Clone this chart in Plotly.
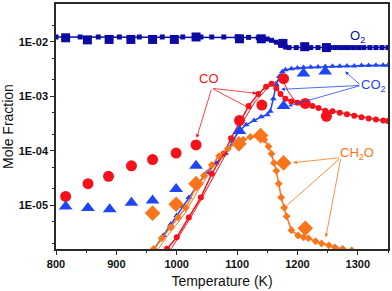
import numpy as np
import plotly.graph_objects as go

# ---------------- data ----------------
# Experimental points
o2_exp_T = [816, 852, 888, 924, 960, 996, 1032, 1104, 1140, 1176, 1212, 1248]
o2_exp_y = [1.18e-2, 1.08e-2, 1.1e-2, 1.1e-2, 1.1e-2, 1.1e-2, 1.22e-2, 1.13e-2, 1.13e-2, 9.3e-3, 8.1e-3, 7.8e-3]

co_exp_T = [816, 853, 887, 925, 960, 999, 1032, 1104, 1141, 1177, 1213, 1248]
co_exp_y = [1.46e-5, 2.5e-5, 3.4e-5, 5.3e-5, 6.9e-5, 9.1e-5, 1.28e-4, 3.6e-4, 6.9e-4, 2.1e-3, 7.4e-4, 4.3e-4]

co2_exp_T = [816, 853, 889, 925, 960, 999, 1032, 1104, 1177, 1210, 1246]
co2_exp_y = [9.5e-6, 8.9e-6, 8.5e-6, 1.12e-5, 1.23e-5, 2.0e-5, 5.3e-5, 2.3e-4, 6.6e-4, 2.6e-3, 2.85e-3]

ch2o_exp_T = [960, 999, 1032, 1103, 1139, 1177, 1213]
ch2o_exp_y = [7.2e-6, 1.05e-5, 2.5e-5, 1.34e-4, 1.9e-4, 6.0e-5, 3.8e-6]

# Model curves
o2_mod_T = [800, 815, 840, 870, 905, 938, 976, 1010, 1040, 1058, 1078, 1100, 1119, 1135,
            1150, 1157, 1165, 1172, 1180, 1186, 1198, 1210, 1222, 1234, 1246, 1254, 1262,
            1270, 1278, 1286, 1294, 1302, 1310, 1320, 1330, 1340, 1350]
o2_mod_y = [1.22e-2, 1.22e-2, 1.22e-2, 1.22e-2, 1.22e-2, 1.22e-2, 1.22e-2, 1.22e-2, 1.22e-2,
            1.22e-2, 1.22e-2, 1.22e-2, 1.2e-2, 1.18e-2, 1.12e-2, 1.06e-2, 9.8e-3, 8.8e-3,
            8.0e-3, 7.8e-3, 7.8e-3, 7.8e-3, 7.8e-3, 7.8e-3, 7.8e-3, 7.8e-3, 7.8e-3, 7.8e-3,
            7.8e-3, 7.8e-3, 7.8e-3, 7.8e-3, 7.8e-3, 7.8e-3, 7.8e-3, 7.8e-3, 7.8e-3]

co_mod_T = [984, 1000, 1020, 1040, 1058, 1078, 1090, 1103, 1119, 1135, 1148, 1157, 1165,
            1172, 1180, 1190, 1200, 1213, 1225, 1235, 1246, 1258, 1270, 1282, 1294, 1306,
            1318, 1330, 1342, 1350]
co_mod_y = [1.6e-6, 2.6e-6, 6e-6, 1.4e-5, 3.8e-5, 8.9e-5, 1.7e-4, 3.2e-4, 6.6e-4, 1.1e-3,
            1.5e-3, 1.7e-3, 1.4e-3, 1.1e-3, 9e-4, 8e-4, 7.6e-4, 7.2e-4, 6.6e-4, 6.1e-4,
            5.4e-4, 5.3e-4, 5.0e-4, 4.7e-4, 4.4e-4, 4.1e-4, 3.9e-4, 3.75e-4, 3.6e-4, 3.5e-4]

co_mod2_T = [991, 1010, 1030, 1050, 1070, 1090, 1110, 1130, 1150, 1165, 1175, 1185, 1195, 1210]
co_mod2_y = [1.6e-6, 3.5e-6, 8e-6, 2e-5, 5e-5, 1.3e-4, 3.5e-4, 8e-4, 1.4e-3, 1.9e-3,
             2.05e-3, 1.2e-3, 8.5e-4, 7.3e-4]

co2_mod_T = [963, 978, 990, 1000, 1010, 1020, 1035, 1050, 1065, 1081, 1093, 1103, 1115,
             1128, 1140, 1150, 1155, 1160, 1165, 1170, 1175, 1180, 1190, 1200, 1210, 1222,
             1234, 1246, 1258, 1270, 1282, 1294, 1306, 1318, 1330, 1342, 1350]
co2_mod_y = [1.6e-6, 2.8e-6, 4.5e-6, 6.5e-6, 9.5e-6, 1.4e-5, 2.4e-5, 4e-5, 6e-5, 9e-5,
             1.5e-4, 2.3e-4, 3e-4, 3.6e-4, 4.2e-4, 4.6e-4, 5.3e-4, 9e-4, 1.65e-3, 2.3e-3,
             2.8e-3, 3.05e-3, 3.2e-3, 3.3e-3, 3.35e-3, 3.4e-3, 3.45e-3, 3.5e-3, 3.55e-3,
             3.55e-3, 3.6e-3, 3.6e-3, 3.65e-3, 3.65e-3, 3.7e-3, 3.7e-3, 3.7e-3]

ch2o_mod_T = [962, 975, 990, 1002, 1015, 1033, 1045, 1058, 1070, 1085, 1097, 1110, 1122,
              1135, 1145, 1152, 1157, 1161, 1165, 1169, 1173, 1178, 1182, 1190, 1201, 1210,
              1218, 1230, 1240, 1252, 1262, 1275, 1290]
ch2o_mod_y = [1.6e-6, 2.5e-6, 4e-6, 6e-6, 9e-6, 2.3e-5, 3.5e-5, 5.5e-5, 8e-5, 1.1e-4,
              1.35e-4, 1.6e-4, 1.8e-4, 1.8e-4, 1.6e-4, 1.2e-4, 8.8e-5, 6e-5, 4.3e-5, 2.5e-5,
              1.4e-5, 9e-6, 6.3e-6, 3.5e-6, 2.8e-6, 2.6e-6, 2.5e-6, 2.2e-6, 2.0e-6, 1.85e-6,
              1.7e-6, 1.6e-6, 1.5e-6]

ch2o_mod2_T = [970, 985, 1000, 1015, 1030, 1045, 1060, 1075, 1090, 1105, 1120]
ch2o_mod2_y = [1.6e-6, 2.8e-6, 4.5e-6, 7.5e-6, 1.5e-5, 2.8e-5, 5e-5, 8e-5, 1.2e-4, 1.5e-4, 1.75e-4]

# Axis ticks
y_tickvals = [1e-5, 1e-4, 1e-3, 1e-2]
y_ticktext = ["1E-05", "1E-04", "1E-03", "1E-02"]
y_minor = [2e-6, 5e-6, 2e-5, 5e-5, 2e-4, 5e-4, 2e-3, 5e-3, 2e-2]
x_tickvals = [800, 900, 1000, 1100, 1200, 1300]
x_minor = [850, 950, 1050, 1150, 1250, 1350]

# Annotation arrows: (tail T, tail y, head T, head y)
co_arrows = [(1058, 1.4e-3, 1033, 1.73e-4), (1058, 1.4e-3, 1132, 1.13e-3), (1058, 1.4e-3, 1124, 5.8e-4)]
co2_arrows = [(1305, 1.58e-3, 1173, 1.34e-3), (1305, 1.58e-3, 1279, 2.85e-3), (1305, 1.58e-3, 1185, 6.6e-4)]
ch2o_arrows = [(1272, 7.5e-5, 1193, 6.05e-5), (1272, 7.5e-5, 1177, 8.8e-6), (1272, 7.5e-5, 1247, 2.6e-6)]

# ---------------- styles ----------------
RED = "#f5121c"
BLUE = "#1f45f5"
NAVY = "#0b0ba3"
ORANGE = "#fa7419"
FONT = "Liberation Sans, Arial, sans-serif"

fig = go.Figure()

def model(T, y, color, symbol, msize=5, width=1.3, markers=True):
    fig.add_trace(go.Scatter(
        x=T, y=y, mode="lines+markers" if markers else "lines",
        line=dict(color=color, width=width),
        marker=dict(symbol=symbol, size=msize, color=color, line=dict(width=0)),
        showlegend=False, hoverinfo="skip"))

def exp(T, y, color, symbol, size):
    fig.add_trace(go.Scatter(
        x=T, y=y, mode="markers",
        marker=dict(symbol=symbol, size=size, color=color, line=dict(width=0)),
        showlegend=False))

model(co_mod2_T, co_mod2_y, RED, "circle", markers=False, width=1)
model(ch2o_mod2_T, ch2o_mod2_y, ORANGE, "diamond", markers=False, width=1)
model(o2_mod_T, o2_mod_y, NAVY, "square", msize=5, width=1.5)
model(co2_mod_T, co2_mod_y, BLUE, "triangle-up", msize=6, width=1.5)
model(co_mod_T, co_mod_y, RED, "circle", msize=6, width=1.5)
model(ch2o_mod_T, ch2o_mod_y, ORANGE, "diamond", msize=6, width=1.5)

exp(o2_exp_T, o2_exp_y, NAVY, "square", 9)
exp(co_exp_T, co_exp_y, RED, "circle", 11)
exp(co2_exp_T, co2_exp_y, BLUE, "triangle-up", 12)
exp(ch2o_exp_T, ch2o_exp_y, ORANGE, "diamond", 12)

annotations = []
for arrows, color in [(co_arrows, RED), (co2_arrows, BLUE), (ch2o_arrows, ORANGE)]:
    for tT, ty, hT, hy in arrows:
        annotations.append(dict(
            x=hT, y=np.log10(hy), ax=tT, ay=np.log10(ty),
            xref="x", yref="y", axref="x", ayref="y",
            text="", showarrow=True, arrowhead=2, arrowsize=0.9,
            arrowwidth=0.8, arrowcolor=color, standoff=0, startstandoff=0))

labels = [("CO", 1053, 2.1e-3, RED), ("CO<sub>2</sub>", 1326, 1.6e-3, BLUE),
          ("O<sub>2</sub>", 1300, 1.25e-2, NAVY), ("CH<sub>2</sub>O", 1298, 8.9e-5, ORANGE)]
for txt, T, y, c in labels:
    annotations.append(dict(x=T, y=np.log10(y), xref="x", yref="y", text=txt,
                            showarrow=False, font=dict(family=FONT, size=13, color=c)))

axis_common = dict(showline=True, linecolor="#2a2a2a", linewidth=1.6, mirror=True,
                   ticks="outside", tickcolor="#2a2a2a", ticklen=4, tickwidth=1.2,
                   showgrid=False, zeroline=False,
                   tickfont=dict(family=FONT, size=11, color="#111111"))

fig.update_layout(
    width=392, height=291,
    margin=dict(l=56, r=2, t=2, b=42),
    paper_bgcolor="white", plot_bgcolor="white",
    showlegend=False,
    annotations=annotations,
    xaxis=dict(range=[800, 1350], tickmode="array", tickvals=x_tickvals,
               ticktext=[f"<b>{v}</b>" for v in x_tickvals],
               minor=dict(tickmode="array", tickvals=x_minor, ticklen=2.5,
                          tickcolor="#2a2a2a", ticks="outside"),
               title=dict(text="Temperature (K)", font=dict(family=FONT, size=14, color="#111"),
                          standoff=7),
               **axis_common),
    yaxis=dict(type="log", range=[-5.8, -1.309], tickmode="array", tickvals=y_tickvals,
               ticktext=[f"<b>{t}</b>" for t in y_ticktext],
               minor=dict(tickmode="array", tickvals=y_minor, ticklen=2.5,
                          tickcolor="#2a2a2a", ticks="outside"),
               title=dict(text="Mole Fraction", font=dict(family=FONT, size=14, color="#111"),
                          standoff=5),
               **axis_common),
)

fig.write_html("out.html", config={"displayModeBar": False},
               post_script="document.body.style.margin='0';document.body.style.padding='0';")
